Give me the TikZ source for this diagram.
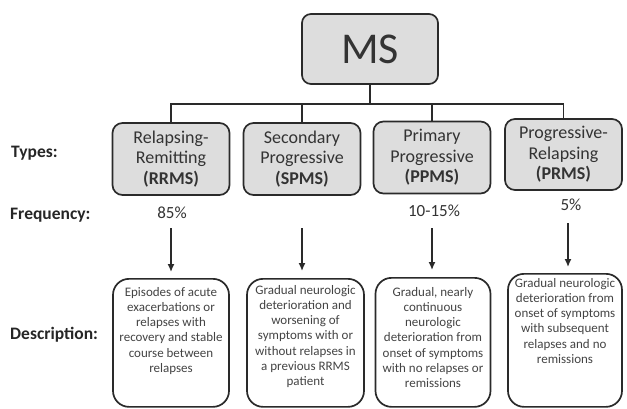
\documentclass[tikz,border=0pt]{standalone}
\usepackage{fontspec}
\setmainfont{Carlito}
\usetikzlibrary{arrows.meta}
\definecolor{edge}{HTML}{2A2A2A}
\definecolor{boxfill}{HTML}{DDDDDD}
\definecolor{txt}{HTML}{333333}
\definecolor{dtxt}{HTML}{444444}
\tikzset{
  msbox/.style={draw=edge, line width=1.7pt, fill=boxfill, rounded corners=9pt, minimum width=136pt, minimum height=70pt, inner sep=0pt, text=txt, font=\fontsize{44}{48}\selectfont},
  typebox/.style={draw=edge, line width=1.7pt, fill=boxfill, rounded corners=10pt, minimum width=117pt, minimum height=72pt, inner sep=0pt, align=center, text=txt, font=\fontsize{18}{20.5}\selectfont},
  descbox/.style={draw=edge, line width=1.7pt, fill=white, rounded corners=16pt, minimum width=116pt, anchor=north, inner sep=0pt},
  desctext/.style={anchor=north, align=center, text=dtxt, inner sep=0pt, font=\fontsize{13}{15.2}\selectfont},
  rowlabel/.style={anchor=west, inner sep=0pt, text=black!85, font=\fontsize{17.5}{20}\selectfont\bfseries},
  freq/.style={inner sep=0pt, text=txt, font=\fontsize{17}{20}\selectfont},
  conn/.style={draw=edge, line width=1.7pt},
  arr/.style={draw=edge, line width=1.4pt, -{Latex[length=8pt,width=7pt]}}
}
\begin{document}
\begin{tikzpicture}[x=1pt,y=-1pt]
\useasboundingbox (0,0) rectangle (627,408);
% top node
\node[msbox] (ms) at (370,49) {MS};
\coordinate (bar) at (370,104);
% type boxes
\node[typebox] (t1) at (171,159) {Relapsing-\\Remitting\\\textbf{(RRMS)}};
\node[typebox] (t2) at (302,159) {Secondary\\Progressive\\\textbf{(SPMS)}};
\node[typebox] (t3) at (432,157.5) {Primary\\Progressive\\\textbf{(PPMS)}};
\node[typebox, minimum height=71pt] (t4) at (563.5,154.5) {Progressive-\\Relapsing\\\textbf{(PRMS)}};
% connectors
\draw[conn] (ms.south) -- (bar);
\draw[conn] (t1.north) -- (t1.north |- bar) -- (t4.north |- bar) -- (t4.north);
\draw[conn] (t2.north) -- (t2.north |- bar);
\draw[conn] (t3.north) -- (t3.north |- bar);
% row labels
\node[rowlabel] (lt) at (11,153) {Types:};
\node[rowlabel] (lf) at (10,215) {Frequency:};
\node[rowlabel] (ld) at (10,335) {Description:};
% frequencies
\node[freq] (f1) at (172,213) {85\%};
\node[freq] (f3) at (434,211) {10-15\%};
\node[freq] (f4) at (571,205) {5\%};
\coordinate (f2) at (302,228);
% description boxes
\node[descbox, minimum height=128pt] (d1) at (171,278) {};
\node[descbox, minimum height=128pt, minimum width=117pt] (d2) at (305.5,278) {};
\node[descbox, minimum height=129pt, minimum width=115pt] (d3) at (433,277) {};
\node[descbox, minimum height=133pt, minimum width=114pt] (d4) at (565,273) {};
\node[desctext] (d1t) at ([yshift=-9pt]d1.north) {Episodes of acute\\exacerbations or\\relapses with\\recovery and stable\\course between\\relapses};
\node[desctext] (d2t) at ([yshift=-7pt]d2.north) {Gradual neurologic\\deterioration and\\worsening of\\symptoms with or\\without relapses in\\a previous RRMS\\patient};
\node[desctext] (d3t) at ([yshift=-10pt]d3.north) {Gradual, nearly\\continuous\\neurologic\\deterioration from\\onset of symptoms\\with no relapses or\\remissions};
\node[desctext] (d4t) at ([yshift=-5pt]d4.north) {Gradual neurologic\\deterioration from\\onset of symptoms\\with subsequent\\relapses and no\\remissions};
% arrows
\draw[arr] ([yshift=-9pt]f1.south -| d1.north) -- ([yshift=6pt]d1.north);
\draw[arr] (f2) -- ([yshift=7pt]d2.north -| f2);
\draw[arr] ([yshift=-11pt]f3.south -| t3.south) -- ([yshift=7pt]d3.north -| t3.south);
\draw[arr] ([yshift=-12pt]f4.south -| 568,0) -- ([yshift=6pt]d4.north -| 568,0);
\end{tikzpicture}
\end{document}
